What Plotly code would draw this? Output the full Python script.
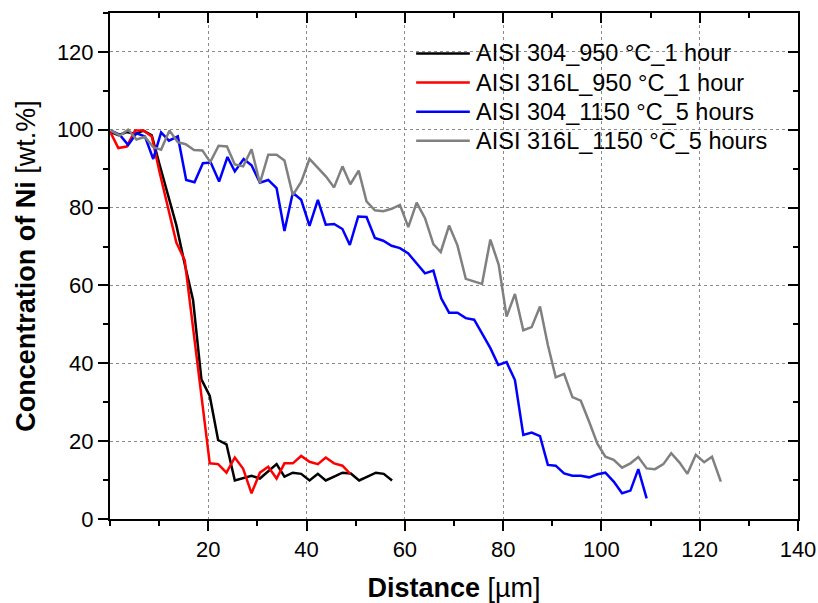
import plotly.graph_objects as go

# =========================
# DATA
# =========================
SERIES_NAMES = [
    "AISI 304_950 °C_1 hour",
    "AISI 316L_950 °C_1 hour",
    "AISI 304_1150 °C_5 hours",
    "AISI 316L_1150 °C_5 hours",
]
SERIES_COLORS = ["#000000", "#ff0000", "#0000ff", "#808080"]

# AISI 304, 950 °C, 1 hour
dist_304_950 = [0.0, 1.7, 3.4, 5.1, 6.8, 8.5, 10.1, 11.8, 13.5, 15.2, 16.9, 18.6, 20.3, 22.0, 23.7,
                25.4, 27.1, 28.8, 30.5, 32.2, 33.9, 35.5, 37.2, 38.9, 40.6, 42.3, 43.9, 45.6, 47.3,
                49.0, 50.7, 52.4, 54.1, 55.7, 57.4]
ni_304_950 = [99.5, 98.6, 99.4, 98.9, 99.8, 98.6, 91.0, 83.5, 75.5, 65.5, 56.3, 35.9, 31.6, 20.3, 19.2,
              9.9, 10.6, 11.1, 10.4, 12.2, 14.1, 10.9, 11.9, 11.6, 9.9, 11.6, 9.9, 10.9, 11.9,
              11.7, 9.9, 10.9, 11.9, 11.6, 9.9]

# AISI 316L, 950 °C, 1 hour
dist_316_950 = [0.0, 1.7, 3.4, 5.1, 6.8, 8.5, 10.1, 11.8, 13.5, 15.2, 16.9, 18.6, 20.3, 22.0, 23.7,
                25.4, 27.1, 28.8, 30.5, 32.2, 33.9, 35.5, 37.2, 38.9, 40.6, 42.3, 43.9, 45.6, 47.3,
                48.9]
ni_316_950 = [99.6, 95.3, 95.7, 99.8, 99.8, 98.3, 89.0, 80.0, 71.0, 66.5, 49.5, 31.0, 14.3, 14.1, 11.9,
              15.8, 12.9, 6.6, 11.9, 13.4, 10.4, 14.3, 14.3, 16.2, 14.7, 14.1, 15.8, 14.3, 13.7,
              11.6]

# AISI 304, 1150 °C, 5 hours
dist_304_1150 = [0.2, 2.0, 3.7, 5.4, 7.1, 8.8, 10.4, 12.0, 13.8, 15.5, 17.2, 18.9, 20.5, 22.2, 23.9,
                 25.4, 27.2, 28.8, 30.5, 32.2, 33.9, 35.5, 37.2, 38.9, 40.6, 42.3, 43.9, 45.6, 47.3,
                 48.8, 50.5, 52.2, 53.9, 55.6, 57.3, 59.0, 60.7, 62.4, 64.1, 65.8, 67.4, 69.0, 70.7,
                 72.4, 74.1, 75.7, 77.4, 79.0, 80.7, 82.4, 84.1, 85.8, 87.5, 89.1, 90.7, 92.4, 94.1,
                 95.8, 97.5, 99.2, 100.8, 102.5, 104.2, 105.9, 107.5, 109.2]
ni_304_1150 = [99.8, 98.7, 96.1, 99.1, 98.3, 92.5, 99.3, 97.2, 98.3, 87.1, 86.5, 91.4, 91.6, 86.7, 93.0,
               89.3, 92.5, 90.9, 86.4, 87.1, 85.0, 74.0, 83.8, 82.0, 75.3, 82.0, 75.6, 75.8, 74.5,
               70.4, 77.7, 77.6, 72.2, 71.5, 70.2, 69.6, 68.2, 65.5, 63.1, 63.8, 56.7, 53.0, 53.0,
               51.6, 51.2, 47.7, 43.9, 39.6, 40.3, 35.7, 21.6, 22.2, 21.3, 13.9, 13.7, 11.7, 11.1,
               11.1, 10.7, 11.5, 11.9, 9.6, 6.6, 7.3, 12.8, 5.3]

# AISI 316L, 1150 °C, 5 hours
dist_316_1150 = [0.2, 2.0, 3.7, 5.4, 7.1, 8.8, 10.4, 12.1, 13.8, 15.4, 17.1, 18.8, 20.4, 22.1, 23.8,
                 25.4, 27.1, 28.8, 30.5, 32.2, 33.9, 35.5, 37.2, 38.9, 40.6, 42.3, 44.0, 45.6, 47.3,
                 48.9, 50.6, 52.2, 53.9, 55.6, 57.3, 59.0, 60.7, 62.4, 64.1, 65.8, 67.3, 69.0, 70.7,
                 72.4, 74.1, 75.7, 77.4, 79.1, 80.7, 82.4, 84.1, 85.8, 87.5, 89.1, 90.7, 92.4, 94.1,
                 95.8, 97.5, 99.2, 100.8, 102.5, 104.2, 105.9, 107.5, 109.2, 110.9, 112.6, 114.2,
                 115.9, 117.5, 119.2, 120.9, 122.5, 124.3]
ni_316_1150 = [99.8, 98.5, 100.0, 97.5, 98.2, 95.5, 94.9, 99.8, 96.8, 96.3, 94.8, 94.7, 91.7, 95.9, 95.7,
               91.1, 90.6, 95.0, 86.3, 93.6, 93.6, 92.1, 83.2, 86.6, 92.5, 90.3, 87.9, 85.2, 90.6,
               86.0, 89.5, 81.6, 79.3, 79.1, 79.7, 80.7, 75.0, 81.3, 77.3, 70.6, 68.6, 75.4, 70.3,
               61.7, 61.1, 60.4, 71.8, 65.3, 52.0, 57.8, 48.5, 49.3, 54.6, 44.7, 36.4, 37.3, 31.3,
               30.4, 25.0, 19.3, 16.0, 15.2, 13.2, 14.3, 15.9, 13.0, 12.8, 14.1, 16.9,
               14.5, 11.6, 16.5, 14.6, 16.0, 9.6]

X_TICKS = [20, 40, 60, 80, 100, 120, 140]
X_TITLE = "<b>Distance</b> [µm]"
Y_TITLE = "<b>Concentration of Ni</b> [wt.%]"

# =========================
# STYLE
# =========================
FONT = "Liberation Sans, Arial, sans-serif"
X_RANGE = [0, 140]
Y_RANGE = [0, 130]
LINE_W = 2.5


def axis_style(ticks, show_labels):
    return dict(
        range=X_RANGE,
        dtick=20,
        ticks=ticks,
        ticklen=10,
        tickwidth=2,
        tickcolor="black",
        showline=True,
        linewidth=2,
        linecolor="black",
        showticklabels=show_labels,
        zeroline=False,
        automargin=False,
        minor=dict(ticks=ticks, dtick=10, ticklen=5, tickwidth=2,
                   tickcolor="black", showgrid=False),
    )


def build_figure():
    fig = go.Figure()

    series = [
        (dist_304_950, ni_304_950),
        (dist_316_950, ni_316_950),
        (dist_304_1150, ni_304_1150),
        (dist_316_1150, ni_316_1150),
    ]
    for (xs, ys), name, color in zip(series, SERIES_NAMES, SERIES_COLORS):
        fig.add_trace(go.Scatter(x=xs, y=ys, mode="lines", name=name,
                                 line=dict(color=color, width=LINE_W), showlegend=False))

    # empty trace so the mirrored top/right axes get drawn (inward ticks)
    fig.add_trace(go.Scatter(x=[], y=[], xaxis="x2", yaxis="y2", showlegend=False,
                             hoverinfo="skip"))

    xa = axis_style("outside", True)
    xa.update(tickmode="array", tickvals=X_TICKS,
              showgrid=True, gridcolor="#8a8a8a", griddash="dot", gridwidth=1,
              title=dict(text=X_TITLE, font=dict(size=27), standoff=18),
              tickfont=dict(size=22))
    ya = axis_style("outside", True)
    ya.update(range=Y_RANGE, showgrid=True, gridcolor="#8a8a8a", griddash="dot", gridwidth=1,
              title=dict(text=Y_TITLE, font=dict(size=27), standoff=13),
              tickfont=dict(size=22))
    xa2 = axis_style("inside", False)
    xa2.update(overlaying="x", side="top", anchor="y2", showgrid=False)
    ya2 = axis_style("inside", False)
    ya2.update(range=Y_RANGE, overlaying="y", side="right", anchor="x2", showgrid=False)

    fig.update_layout(
        width=818, height=603,
        margin=dict(l=110, r=20, t=13, b=84),
        paper_bgcolor="white", plot_bgcolor="white",
        font=dict(family=FONT, color="black", size=22),
        xaxis=xa, yaxis=ya, xaxis2=xa2, yaxis2=ya2,
        showlegend=False,
    )

    # legend drawn by hand to get the long line keys of the original
    for i, (name, color) in enumerate(zip(SERIES_NAMES, SERIES_COLORS)):
        y = 0.920 - i * 0.0575
        fig.add_shape(type="line", xref="paper", yref="paper", x0=0.445, x1=0.523,
                      y0=y, y1=y, line=dict(color=color, width=LINE_W))
        fig.add_annotation(xref="paper", yref="paper", x=0.529, y=y, text=name,
                           showarrow=False, xanchor="left", yanchor="middle",
                           font=dict(size=23.5, family=FONT, color="black"))
    return fig


def main():
    fig = build_figure()
    # page body has an 8px default margin; drop it so the figure fills the window
    fig.write_html("out.html", config={"displayModeBar": False},
                   post_script="document.body.style.margin = '0';")


if __name__ == "__main__":
    main()
